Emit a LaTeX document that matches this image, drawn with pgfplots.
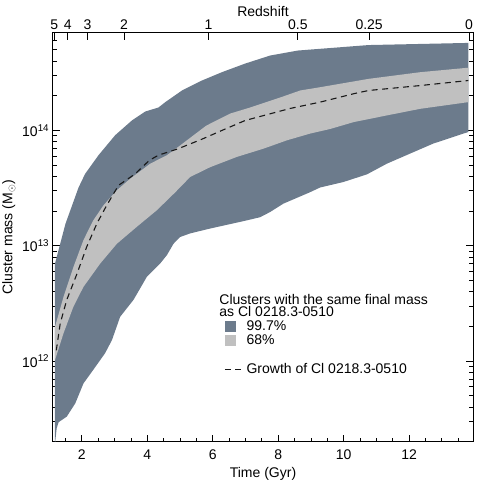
\documentclass[border=0pt]{standalone}
\usepackage{fontspec}
\setmainfont{Liberation Sans}
\usepackage{pgfplots}
\usepackage{pgfplotstable}
\pgfplotsset{compat=1.18}

\definecolor{bandwide}{RGB}{108,123,140}
\definecolor{bandnarrow}{RGB}{192,192,192}
\definecolor{growthline}{RGB}{25,25,25}

\pgfplotsset{
  swatch legend/.style={legend image code/.code={\fill[##1] (0bp,-5.5bp) rectangle (11bp,5.5bp);}},
  dash legend/.style={legend image code/.code={\draw[##1] (0bp,0bp) -- (16.5bp,0bp);}},
}

% 99.7% envelope: upper edge left to right, then lower edge right to left
\pgfplotstableread{
t      M
1.18   7.0e12
1.50   1.55e13
1.90   3.2e13
2.10   4.2e13
2.51   6.1e13
3.02   9.1e13
3.53   1.22e14
3.94   1.46e14
4.34   1.58e14
4.55   1.76e14
5.06   2.22e14
5.67   2.71e14
6.28   3.2e14
6.99   3.8e14
7.75   4.46e14
8.60   4.93e14
10.76  5.5e14
13.81  5.74e14
13.81  9.7e13
12.74  7.7e13
12.03  6.3e13
11.32  5.15e13
10.71  4.16e13
9.99   3.57e13
9.28   3.2e13
8.98   2.92e13
8.16   2.32e13
7.75   1.96e13
7.45   1.77e13
7.04   1.66e13
5.92   1.41e13
5.31   1.28e13
5.00   1.19e13
4.80   1.04e13
4.60   8.3e12
4.39   7.0e12
3.99   5.4e12
3.58   3.4e12
3.17   2.42e12
2.92   1.52e12
2.71   1.17e12
2.35   8.4e11
2.05   6.4e11
1.80   4.3e11
1.54   3.3e11
1.29   2.95e11
1.23   2.6e11
1.18   1.9e11
}\bandwidetable

% 68% envelope
\pgfplotstableread{
t      M
1.18   1.98e12
1.44   3.6e12
1.74   6.5e12
2.05   1.12e13
2.35   1.66e13
2.66   2.24e13
3.07   3.03e13
3.48   3.82e13
4.09   5.15e13
4.60   6.1e13
5.00   7.4e13
5.80   1.1e14
6.53   1.4e14
7.14   1.58e14
8.06   1.93e14
8.67   2.22e14
9.28   2.37e14
10.76  2.8e14
12.34  3.2e14
13.81  3.5e14
13.81  1.76e14
12.34  1.54e14
11.32  1.35e14
10.30  1.18e14
9.59   1.03e14
8.98   9.4e13
8.26   8.2e13
7.55   6.95e13
6.74   5.9e13
5.92   4.8e13
5.31   3.95e13
4.85   2.9e13
4.29   2.03e13
3.68   1.46e13
3.07   1.04e13
2.56   7.0e12
2.05   4.4e12
1.74   2.95e12
1.44   1.74e12
1.18   1.02e12
}\bandnarrowtable

% mass growth of Cl 0218.3-0510
\pgfplotstableread{
t      M
1.22   1.24e12
1.34   2.12e12
1.54   3.4e12
1.85   5.7e12
2.15   9.8e12
2.46   1.56e13
2.76   2.24e13
3.12   3.34e13
3.63   4.2e13
4.06   5.5e13
4.34   6.1e13
4.95   6.95e13
5.67   8.4e13
6.28   1.0e14
6.99   1.22e14
8.36   1.55e14
9.28   1.76e14
10.30  2.08e14
10.76  2.22e14
12.34  2.45e14
13.81  2.71e14
}\growthtable

\begin{document}
\begin{tikzpicture}[font=\fontsize{14bp}{16bp}\selectfont]
\begin{axis}[
  name=main,
  scale only axis,
  width=420.6bp, height=408.7bp,
  xmin=1.11, xmax=13.96,
  ymode=log, ymin=2e11, ymax=7e14,
  axis line style={line width=1bp},
  xtick={2,4,...,12},
  minor xtick={1.5,2.5,3,3.5,4.5,5,5.5,6.5,7,7.5,8.5,9,9.5,10.5,11,11.5,12.5,13,13.5},
  xtick pos=left,
  xticklabel style={yshift=-5bp},
  ytick={1e12,1e13,1e14},
  yticklabels={10\textsuperscript{12},10\textsuperscript{13},10\textsuperscript{14}},
  minor ytick={3e11,4e11,5e11,6e11,7e11,8e11,9e11,
               2e12,3e12,4e12,5e12,6e12,7e12,8e12,9e12,
               2e13,3e13,4e13,5e13,6e13,7e13,8e13,9e13,
               2e14,3e14,4e14,5e14,6e14},
  tick align=inside,
  major tick length=7bp, minor tick length=4bp,
  every tick/.style={black, line width=0.8bp},
  /pgf/number format/assume math mode=true,
  xlabel={Time (Gyr)},
  ylabel={Cluster mass (M\textsubscript{$\odot$})},
  legend style={
    at={(axis description cs:0.408,0.2989)}, anchor=north west,
    draw=none, fill=none, inner sep=0pt, outer sep=0pt,
    row sep=0pt, column sep=3bp,
    nodes={inner sep=1.65bp, text height=9.5bp, text depth=1.5bp},
  },
  legend cell align=left,
]
\addplot[fill=bandwide, draw=none, swatch legend]
  table[x=t, y=M] {\bandwidetable};
\addlegendentry{99.7\%}
\addplot[fill=bandnarrow, draw=none, swatch legend]
  table[x=t, y=M] {\bandnarrowtable};
\addlegendentry{68\%}
\addlegendimage{empty legend}
\addlegendentry{}
\addplot[growthline, line width=1.1bp, dash pattern=on 6bp off 4.5bp, dash legend]
  table[x=t, y=M] {\growthtable};
\addlegendentry{Growth of Cl 0218.3-0510}
\node[anchor=base west, align=left, inner sep=0pt,
  font=\fontsize{14bp}{12bp}\selectfont]
  at (axis description cs:0.396,0.3059)
  {Clusters with the same final mass\\as Cl 0218.3-0510};
\end{axis}
\begin{axis}[
  scale only axis,
  width=420.6bp, height=408.7bp,
  at={(main.south west)}, anchor=south west,
  xmin=1.11, xmax=13.96, ymin=0, ymax=1,
  axis x line*=top, axis y line=none,
  xtick={1.16,1.572,2.171,3.292,5.868,8.600,10.778,13.83},
  xticklabels={5,4,3,2,1,0.5,0.25,0},
  tick align=inside, major tick length=7bp,
  every tick/.style={black, line width=0.8bp},
  axis line style={line width=1bp},
  xlabel={Redshift},
  xlabel style={yshift=-4bp},
]
\end{axis}
\pgfresetboundingbox
\path (main.south west) ++(-52.7bp,-39.3bp);
\path (main.north east) ++(5.7bp,33bp);
\end{tikzpicture}
\end{document}
